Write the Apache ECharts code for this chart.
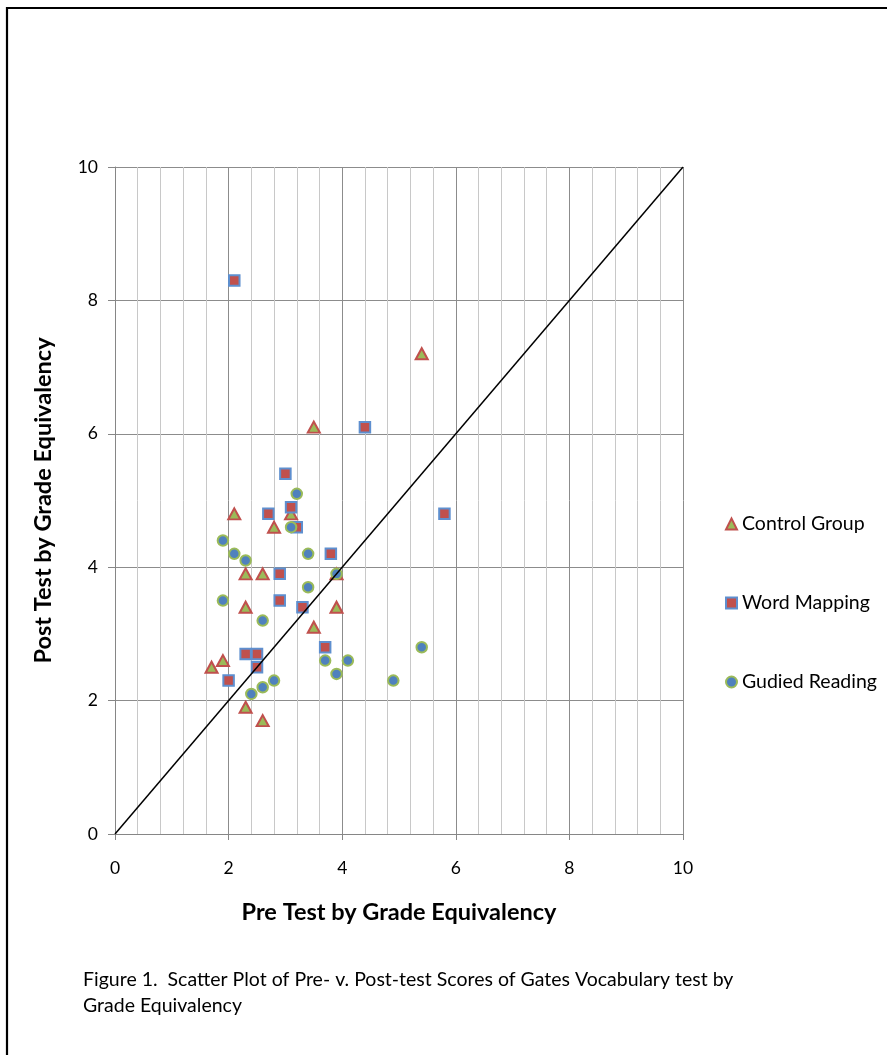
<!DOCTYPE html>
<html>
<head>
<meta charset="utf-8">
<script src="https://cdn.jsdelivr.net/npm/echarts@6/dist/echarts.min.js"></script>
<style>
html,body{margin:0;padding:0;background:#fff;}
#chart{width:887px;height:1055px;}
</style>
</head>
<body>
<div id="chart"></div>
<script>
// ---- Data ----
var seriesNames = ['Control Group', 'Word Mapping', 'Gudied Reading'];

var controlPre  = [5.4, 3.5, 2.1, 3.1, 2.8, 2.3, 2.6, 3.9, 2.3, 3.9, 3.5, 1.9, 1.7, 2.3, 2.6];
var controlPost = [7.2, 6.1, 4.8, 4.8, 4.6, 3.9, 3.9, 3.9, 3.4, 3.4, 3.1, 2.6, 2.5, 1.9, 1.7];

var wordPre  = [2.1, 4.4, 3.0, 3.1, 2.7, 5.8, 3.2, 3.8, 2.9, 2.9, 3.3, 3.7, 2.3, 2.5, 2.5, 2.0];
var wordPost = [8.3, 6.1, 5.4, 4.9, 4.8, 4.8, 4.6, 4.2, 3.9, 3.5, 3.4, 2.8, 2.7, 2.7, 2.5, 2.3];

var guidedPre  = [3.2, 3.1, 1.9, 2.1, 3.4, 2.3, 3.9, 3.4, 1.9, 2.6, 5.4, 3.7, 4.1, 3.9, 2.8, 4.9, 2.6, 2.4];
var guidedPost = [5.1, 4.6, 4.4, 4.2, 4.2, 4.1, 3.9, 3.7, 3.5, 3.2, 2.8, 2.6, 2.6, 2.4, 2.3, 2.3, 2.2, 2.1];

var refLineX = [0, 10];
var refLineY = [0, 10];

var xTicks = [0, 2, 4, 6, 8, 10];
var yTicks = [0, 2, 4, 6, 8, 10];

var xTitle = 'Pre Test by Grade Equivalency';
var yTitle = 'Post Test by Grade Equivalency';
var caption = 'Figure 1.  Scatter Plot of Pre- v. Post-test Scores of Gates Vocabulary test by\nGrade Equivalency';

function pairs(xs, ys) {
  var out = [];
  for (var i = 0; i < xs.length; i++) out.push([xs[i], ys[i]]);
  return out;
}

var FONT = 'Lato';
var chart = echarts.init(document.getElementById('chart'), null, {renderer: 'canvas'});

var axisCommon = {
  type: 'value',
  min: xTicks[0],
  max: xTicks[xTicks.length - 1],
  interval: xTicks[1] - xTicks[0],
  axisLine: {show: true, onZero: false, lineStyle: {color: '#868686', width: 1}},
  axisTick: {show: true, inside: false, length: 6, lineStyle: {color: '#868686', width: 1}},
  splitLine: {show: true, lineStyle: {color: '#8c8c8c', width: 1}},
  axisLabel: {color: '#000', fontFamily: FONT, fontSize: 17.5},
  nameLocation: 'middle',
  nameTextStyle: {color: '#000', fontFamily: FONT, fontSize: 23.5, fontWeight: 'bold'}
};

var option = {
  animation: false,
  backgroundColor: '#fff',
  textStyle: {fontFamily: FONT},
  graphic: [{
    type: 'rect',
    shape: {x: 7, y: 8, width: 1000, height: 1200},
    style: {fill: 'none', stroke: '#000', lineWidth: 2.2},
    silent: true,
    z: 100
  }],
  title: {
    text: caption,
    left: 78,
    top: 961,
    textStyle: {fontFamily: FONT, fontSize: 19.5, fontWeight: 'normal', color: '#000', lineHeight: 26.5}
  },
  legend: {
    orient: 'vertical',
    left: 720,
    top: 509,
    itemWidth: 11,
    itemHeight: 11,
    itemGap: 59,
    data: seriesNames,
    textStyle: {fontFamily: FONT, fontSize: 19.5, color: '#000', lineHeight: 20}
  },
  grid: {left: 115, right: 204, top: 167, bottom: 221, containLabel: false},
  xAxis: Object.assign({}, axisCommon, {
    name: xTitle,
    nameGap: 66,
    axisLabel: Object.assign({}, axisCommon.axisLabel, {margin: 25}),
    minorTick: {show: false, splitNumber: 5},
    minorSplitLine: {show: true, lineStyle: {color: '#c8c8c8', width: 1}}
  }),
  yAxis: Object.assign({}, axisCommon, {
    min: yTicks[0],
    max: yTicks[yTicks.length - 1],
    interval: yTicks[1] - yTicks[0],
    name: yTitle,
    nameGap: 60,
    axisTick: {show: true, inside: false, length: 7, lineStyle: {color: '#868686', width: 1}},
    axisLabel: Object.assign({}, axisCommon.axisLabel, {margin: 17})
  }),
  series: [
    {
      name: seriesNames[0],
      type: 'scatter',
      symbol: 'triangle',
      symbolSize: [12, 11],
      data: pairs(controlPre, controlPost),
      itemStyle: {color: '#9BBB59', borderColor: '#C0504D', borderWidth: 2, opacity: 1},
      z: 3
    },
    {
      name: seriesNames[1],
      type: 'scatter',
      symbol: 'rect',
      symbolSize: 10.5,
      data: pairs(wordPre, wordPost),
      itemStyle: {color: '#C0504D', borderColor: '#5E8FCF', borderWidth: 2, opacity: 1},
      z: 4
    },
    {
      name: seriesNames[2],
      type: 'scatter',
      symbol: 'circle',
      symbolSize: 10.5,
      data: pairs(guidedPre, guidedPost),
      itemStyle: {color: '#4F81BD', borderColor: '#9BBB59', borderWidth: 2, opacity: 1},
      z: 5
    },
    {
      name: 'ref',
      type: 'line',
      data: pairs(refLineX, refLineY),
      symbol: 'none',
      silent: true,
      lineStyle: {color: '#000', width: 1.5},
      z: 6
    }
  ]
};

chart.setOption(option);
</script>
</body>
</html>
